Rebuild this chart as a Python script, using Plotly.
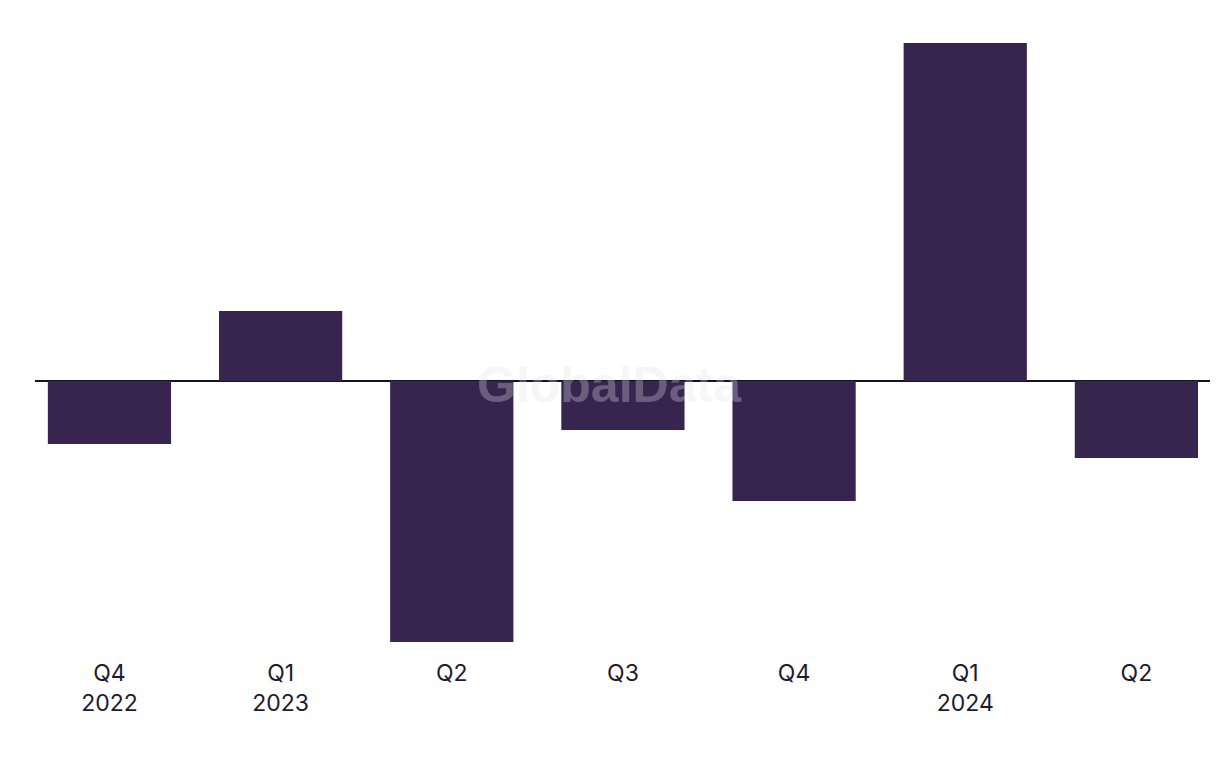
import plotly.graph_objects as go

quarters = ["Q4<br>2022", "Q1<br>2023", "Q2", "Q3", "Q4", "Q1<br>2024", "Q2"]
values = [-6.3, 7.0, -26.1, -4.9, -12.0, 33.8, -7.7]
positions = list(range(len(quarters)))

BAR = "#37254f"
TEXT = "#1c1b2e"

fig = go.Figure(go.Bar(
    x=positions, y=values, marker=dict(color=BAR, line=dict(width=0)),
    width=0.72, hoverinfo="skip"))

fig.update_layout(
    width=1220, height=768,
    margin=dict(l=27, r=18, t=23, b=125, autoexpand=False),
    paper_bgcolor="white", plot_bgcolor="white",
    showlegend=False,
    font=dict(family="Inter, Roboto, sans-serif", size=23, color=TEXT),
    xaxis=dict(range=[-0.435, 6.43], showgrid=False, showline=False, zeroline=False,
               tickmode="array", tickvals=positions, ticktext=quarters,
               ticks="", tickfont=dict(size=23, color=TEXT), ticklabelstandoff=6,
               automargin=False),
    yaxis=dict(range=[-27, 35], showgrid=False, showticklabels=False, automargin=False,
               zeroline=True, zerolinecolor="#15132a", zerolinewidth=2),
    annotations=[dict(text="<b>GlobalData</b>", x=0.489, y=-0.4, xref="paper", yref="y",
                      xanchor="center", yanchor="middle", showarrow=False,
                      font=dict(family="Liberation Sans, Arial, sans-serif", size=50,
                                color="rgba(225,225,232,0.3)"))],
)

fig.write_html("out.html")
